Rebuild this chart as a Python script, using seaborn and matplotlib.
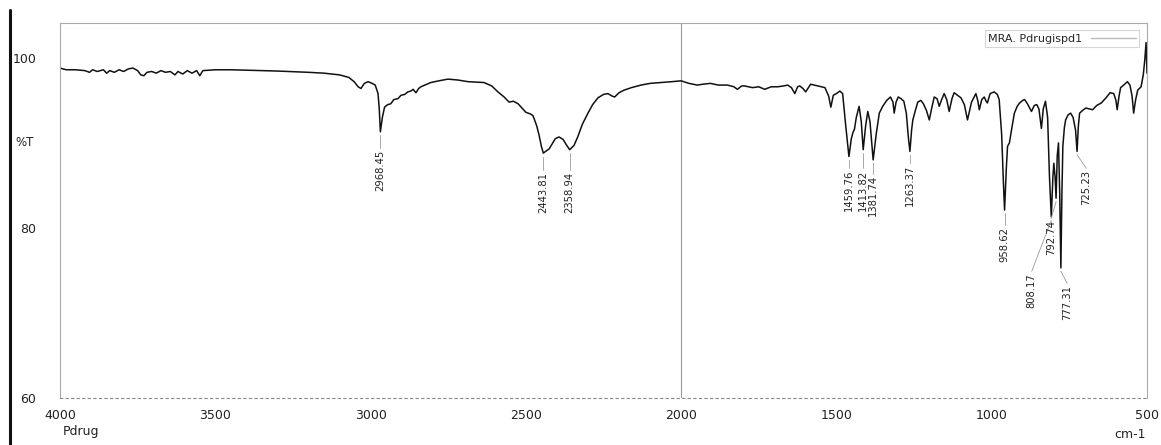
import numpy as np
import pandas as pd
import seaborn as sns
import matplotlib
matplotlib.use("Agg")
import matplotlib.pyplot as plt
from matplotlib.lines import Line2D

# ---------------- data ----------------
wavenumber = [
    4000, 3980, 3950, 3920, 3905, 3895, 3880, 3860, 3850, 3840, 3825, 3810, 3795, 3780, 3765,
    3750, 3740, 3730, 3720, 3705, 3690, 3675, 3660, 3645, 3630, 3620, 3605, 3590, 3575, 3560,
    3550, 3540, 3500, 3450, 3400, 3300, 3200, 3150, 3100, 3070, 3053, 3040, 3031, 3020, 3008,
    2995, 2985, 2976, 2972, 2968.45, 2962, 2955, 2945, 2935, 2925, 2912, 2902, 2890, 2880, 2870,
    2863, 2854, 2845, 2838, 2806, 2780, 2751, 2720, 2686, 2635, 2610, 2590, 2570, 2554, 2540,
    2525, 2510, 2500, 2485, 2477, 2465, 2458, 2450, 2443.81, 2425, 2405, 2393, 2380, 2370, 2358.94,
    2345, 2333, 2318, 2300, 2285, 2268, 2250, 2236, 2222, 2214, 2200, 2184, 2160, 2129, 2100,
    2065, 2030, 2000, 1975, 1948, 1930, 1906, 1880, 1851, 1830, 1819, 1805, 1796, 1770, 1750,
    1731, 1710, 1689, 1670, 1657, 1645, 1634, 1625, 1618, 1608, 1599, 1590, 1583, 1560, 1537,
    1525, 1518, 1510, 1500, 1489, 1480, 1470, 1459.76, 1452, 1447, 1442, 1436, 1427, 1420, 1413.82,
    1406, 1399, 1392, 1381.74, 1372, 1362, 1351, 1338, 1326, 1318, 1314, 1308, 1301, 1292, 1283,
    1275, 1268, 1263.37, 1258, 1254, 1246, 1238, 1228, 1220, 1210, 1201, 1192, 1185, 1176, 1169,
    1160, 1153, 1145, 1137, 1128, 1121, 1110, 1099, 1088, 1078, 1065, 1051, 1045, 1040, 1032,
    1024, 1018, 1014, 1005, 992, 982, 976, 968, 962, 958.62, 953, 949, 943, 935, 927,
    918, 910, 900, 894, 885, 872, 863, 855, 848, 840, 834, 827, 820, 814, 808.17,
    803, 800, 796, 792.74, 789, 785, 781, 777.31, 774, 771, 766, 762, 754, 746, 738,
    730, 725.23, 721, 717, 708, 697, 686, 675, 662, 647, 632, 619, 607, 600, 596,
    590, 585, 575, 563, 555, 548, 543, 537, 530, 519, 512, 507, 503, 501, 500,
]
transmittance = [
    98.8, 98.6, 98.6, 98.5, 98.3, 98.6, 98.4, 98.6, 98.2, 98.5, 98.3, 98.6, 98.4, 98.7, 98.8,
    98.5, 98.0, 97.9, 98.3, 98.4, 98.2, 98.5, 98.3, 98.4, 98.0, 98.4, 98.1, 98.5, 98.2, 98.5,
    97.9, 98.5, 98.6, 98.6, 98.55, 98.45, 98.3, 98.2, 98.0, 97.7, 97.2, 96.6, 96.4, 97.0, 97.2,
    97.0, 96.8, 95.8, 94.0, 91.3, 93.0, 94.2, 94.5, 94.6, 95.1, 95.2, 95.6, 95.7, 96.0, 96.1,
    96.3, 95.9, 96.4, 96.6, 97.1, 97.3, 97.5, 97.4, 97.2, 97.1, 96.7, 96.0, 95.4, 94.8, 94.9,
    94.6, 94.0, 93.6, 93.4, 93.2, 92.0, 91.0, 89.6, 88.8, 89.3, 90.5, 90.7, 90.4, 89.8, 89.2,
    89.7, 90.7, 92.2, 93.5, 94.5, 95.3, 95.7, 95.8, 95.5, 95.4, 95.9, 96.2, 96.5, 96.8, 97.0,
    97.1, 97.2, 97.3, 97.0, 96.8, 96.9, 97.0, 96.8, 96.8, 96.6, 96.3, 96.7, 96.7, 96.5, 96.6,
    96.3, 96.6, 96.6, 96.7, 96.8, 96.5, 95.8, 96.6, 96.7, 96.4, 96.0, 96.5, 96.9, 96.7, 96.5,
    95.5, 94.2, 95.6, 95.8, 96.1, 95.8, 92.0, 88.4, 90.5, 91.2, 91.6, 93.0, 94.3, 92.5, 89.2,
    92.0, 93.7, 92.5, 88.0, 91.0, 93.5, 94.3, 95.0, 95.4, 94.8, 93.5, 94.8, 95.4, 95.2, 94.9,
    93.5, 90.5, 89.0, 91.5, 92.7, 93.8, 94.8, 95.0, 94.6, 93.8, 92.7, 94.3, 95.4, 95.2, 94.3,
    95.2, 95.8, 95.1, 93.7, 95.2, 95.9, 95.6, 95.3, 94.5, 92.7, 94.8, 95.8, 95.0, 93.9, 95.1,
    95.4, 94.9, 94.7, 95.8, 96.0, 95.7, 95.1, 91.0, 85.0, 82.1, 87.0, 89.6, 90.0, 91.8, 93.5,
    94.3, 94.7, 95.0, 95.1, 94.6, 93.7, 94.4, 94.5, 94.0, 91.7, 94.0, 94.9, 93.0, 86.0, 81.3,
    86.0, 87.6, 86.0, 83.5, 88.5, 90.0, 84.0, 75.3, 84.0, 89.6, 91.8, 92.7, 93.3, 93.5, 93.0,
    91.5, 89.0, 92.0, 93.5, 93.8, 94.1, 94.0, 93.9, 94.4, 94.7, 95.3, 95.9, 95.8, 95.0, 93.9,
    95.5, 96.5, 96.8, 97.2, 96.8, 95.5, 93.5, 95.0, 96.2, 96.6, 98.0, 99.8, 101.8, 99.5, 98.2,
]

peak_positions = [2968.45, 2443.81, 2358.94, 1459.76, 1413.82, 1381.74, 1263.37,
                  958.62, 808.17, 792.74, 777.31, 725.23]
peak_labels = ["2968.45", "2443.81", "2358.94", "1459.76", "1413.82", "1381.74", "1263.37",
               "958.62", "808.17", "792.74", "777.31", "725.23"]

x_ticks = [4000, 3500, 3000, 2500, 2000, 1500, 1000, 500]
y_ticks = [60, 80, 100]
legend_label = "MRA. Pdrugispd1"

# ---------------- layout of peak labels (placement only) ----------------
label_top = [89.2, 86.6, 86.6, 86.8, 86.8, 86.2, 87.4, 80.1, 74.7, 80.9, 73.3, 86.8]
label_dx = [0, 0, 0, 0, 0, 0, 0, 0, 63, 16, -20, -30]

df = pd.DataFrame({"wn": wavenumber, "T": transmittance})

sns.set_style("white")
plt.rcParams["font.family"] = ["DejaVu Sans"]

fig = plt.figure(figsize=(11.61, 4.45), dpi=100)
ax = fig.add_axes([60 / 1161, 1 - 398 / 445, (1147 - 60) / 1161, (398 - 23) / 445])

sns.lineplot(data=df, x="wn", y="T", sort=False, color="#111111", lw=1.1, ax=ax,
             estimator=None)

ax.set_xlim(4000, 500)
ax.set_ylim(60, 104.1)
ax.axvline(2000, color="#9a9a9a", lw=0.8, zorder=0)

ax.set_xticks(x_ticks)
ax.set_xticklabels([str(t) for t in x_ticks], fontsize=9, color="#222222")
ax.set_xticks(np.arange(500, 4001, 50), minor=True)
ax.tick_params(axis="x", which="major", length=3, direction="in", pad=8, color="#777777")
ax.tick_params(axis="x", which="minor", length=2, direction="in", color="#999999", width=0.6)

ax.set_yticks(y_ticks)
ax.set_yticklabels([str(t) for t in y_ticks], fontsize=9, color="#222222")
ax.set_yticks([64, 68, 72, 76, 84, 88, 92, 96], minor=True)
ax.tick_params(axis="y", which="major", length=10, direction="out", pad=7, color="#888888", width=0.8)
ax.tick_params(axis="y", which="minor", length=6, direction="out", color="#aaaaaa", width=0.7)
ax.set_xlabel("")
ax.set_ylabel("")

for side in ["top", "right", "left"]:
    ax.spines[side].set_color("#aaaaaa")
    ax.spines[side].set_linewidth(0.8)
ax.spines["bottom"].set_color("#888888")
ax.spines["bottom"].set_linestyle((0, (2, 3)))
ax.spines["bottom"].set_linewidth(0.8)

# peak annotations
for p, lab, ty, dx in zip(peak_positions, peak_labels, label_top, label_dx):
    i = wavenumber.index(p)
    py = transmittance[i]
    ax.plot([p, p + dx], [py - 0.4, ty + 0.2], color="#9a9a9a", lw=0.6)
    ax.text(p + dx, ty, lab, rotation=90, ha="center", va="top", fontsize=7.2,
            color="#222222")

# legend
handle = Line2D([0], [0], color="#bbbbbb", lw=1.0)
leg = ax.legend([handle], [legend_label], loc="upper right", markerfirst=False,
                frameon=True, fontsize=8, handlelength=4, borderpad=0.3,
                bbox_to_anchor=(0.998, 0.995), fancybox=False)
leg.get_frame().set_edgecolor("#cccccc")
leg.get_frame().set_linewidth(0.8)

fig.text(25 / 1161, 1 - 143 / 445, "%T", fontsize=8.5, ha="center", va="center", color="#222222")
fig.text(63 / 1161, 1 - 432 / 445, "Pdrug", fontsize=9, ha="left", va="center", color="#222222")
fig.text(1130 / 1161, 1 - 434 / 445, "cm-1", fontsize=9, ha="center", va="center", color="#222222")

# scan border on the left
fig.add_artist(Line2D([10 / 1161, 10 / 1161], [0, 1 - 10 / 445], color="#111111", lw=2.2,
                      transform=fig.transFigure))

fig.savefig("out.png", dpi=100)
